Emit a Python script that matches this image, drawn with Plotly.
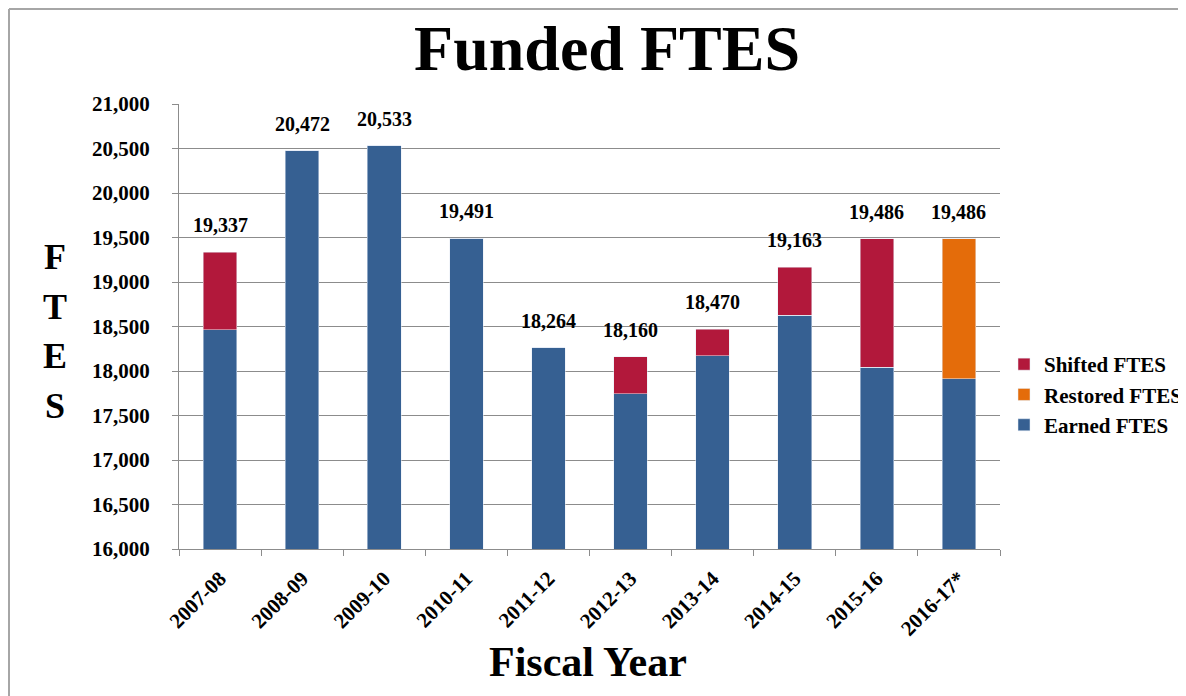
import plotly.graph_objects as go

years = ["2007-08", "2008-09", "2009-10", "2010-11", "2011-12",
         "2012-13", "2013-14", "2014-15", "2015-16", "2016-17*"]
earned = [18461, 20472, 20533, 19491, 18264, 17742, 18169, 18629, 18041, 17914]
shifted = [876, 0, 0, 0, 0, 418, 301, 534, 1445, 0]
restored = [0, 0, 0, 0, 0, 0, 0, 0, 0, 1572]
totals = [19337, 20472, 20533, 19491, 18264, 18160, 18470, 19163, 19486, 19486]
total_labels = ["19,337", "20,472", "20,533", "19,491", "18,264",
                "18,160", "18,470", "19,163", "19,486", "19,486"]
y_ticks = list(range(16000, 21001, 500))

BLUE = "#366092"
RED = "#B2183B"
ORANGE = "#E46C0A"
SERIF = "Liberation Serif"

fig = go.Figure()
fig.add_trace(go.Bar(x=years, y=earned, name="Earned FTES", marker_color=BLUE, width=0.41))
fig.add_trace(go.Bar(x=years, y=restored, name="Restored FTES", marker_color=ORANGE, width=0.41))
fig.add_trace(go.Bar(x=years, y=shifted, name="Shifted FTES", marker_color=RED, width=0.41))

for yr, tot, lab in zip(years, totals, total_labels):
    fig.add_annotation(x=yr, y=tot, text=lab, showarrow=False, yanchor="bottom",
                       yshift=14, font=dict(family=SERIF, size=20, color="black", weight="bold"))

# Y axis title letters
for i, ch in enumerate("FTES"):
    fig.add_annotation(xref="paper", yref="paper", x=(55 - 179) / 821,
                       y=(549 - (257 + i * 49.5)) / 445, text=ch, showarrow=False,
                       xanchor="center", yanchor="middle",
                       font=dict(family=SERIF, size=36, color="black", weight="bold"))

# X axis title
fig.add_annotation(xref="paper", yref="paper", x=(588 - 179) / 821, y=(549 - 662) / 445,
                   text="Fiscal Year", showarrow=False, xanchor="center", yanchor="middle",
                   font=dict(family=SERIF, size=42, color="black", weight="bold"))

# outer frame (top and left edges)
x_left = (9 - 179) / 821
y_top = (549 - 9) / 445
fig.add_shape(type="line", xref="paper", yref="paper", x0=x_left, x1=(1200 - 179) / 821,
              y0=y_top, y1=y_top, line=dict(color="#a6a6a6", width=2))
fig.add_shape(type="line", xref="paper", yref="paper", x0=x_left, x1=x_left,
              y0=y_top, y1=(549 - 710) / 445, line=dict(color="#a6a6a6", width=2))

fig.update_layout(
    barmode="stack",
    width=1186, height=696,
    margin=dict(l=171, r=194, t=96, b=155, autoexpand=False),
    paper_bgcolor="white", plot_bgcolor="white",
    title=dict(text="Funded FTES", x=599 / 1186, y=1 - 40 / 696, xanchor="center",
               yanchor="middle",
               font=dict(family=SERIF, size=64, color="black", weight="bold")),
    legend=dict(x=(1004 - 179) / 821, y=(549 - 344) / 445, xanchor="left", yanchor="top",
                traceorder="reversed",
                font=dict(family=SERIF, size=21, color="black", weight="bold"),
                itemwidth=30, tracegroupgap=0, bgcolor="rgba(0,0,0,0)"),
    showlegend=True,
)
fig.update_yaxes(range=[16000, 21000], tickvals=y_ticks,
                 ticktext=[f"{v:,}" for v in y_ticks],
                 showgrid=True, gridcolor="#8c8c8c", gridwidth=1,
                 showline=True, linecolor="#8c8c8c", linewidth=1,
                 ticks="outside", ticklen=6, tickcolor="#8c8c8c",
                 ticklabelstandoff=18, zeroline=False, automargin=False,
                 tickfont=dict(family=SERIF, size=21, color="black", weight="bold"))
fig.update_xaxes(type="category", showline=True, linecolor="#8c8c8c", linewidth=1,
                 ticks="outside", ticklen=6, tickcolor="#8c8c8c", tickson="boundaries",
                 tickangle=-45, showgrid=False, automargin=False, ticklabelstandoff=8,
                 tickfont=dict(family=SERIF, size=21, color="black", weight="bold"))

fig.write_html("out.html")
